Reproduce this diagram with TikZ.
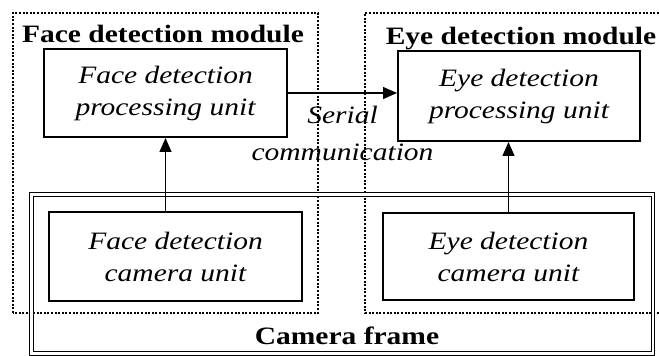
\documentclass[tikz,border=0pt]{standalone}
\usepackage{fontspec}
\setmainfont{Liberation Serif}[FakeStretch=1.18]
\usetikzlibrary{arrows.meta}

\begin{document}
\begin{tikzpicture}[x=1pt,y=1pt,
  unit/.style={draw,line width=2pt,align=center,inner sep=0pt,font=\fontsize{25}{32}\selectfont\itshape},
  module/.style={line width=2.2pt,dash pattern=on 2pt off 1.6pt},
  title/.style={anchor=base,inner sep=0pt,font=\fontsize{25}{32}\selectfont\bfseries},
  link/.style={line width=1.3pt,-{Triangle[length=14pt,width=12pt]}}]
  \useasboundingbox (0,0) rectangle (659,356);

  %modules
  \draw[module] (13,43) rectangle (318,343);
  \draw[module] (659,343) -- (365,343) -- (365,43) -- (659,43);
  \node[title] (facetitle) at (163,313) {Face detection module};
  \node[title] (eyetitle) at (521,311) {Eye detection module};

  %camera frame
  \draw[line width=1.3pt,double,double distance=2.2pt] (31.5,2.5) rectangle (653,161.5);
  \node[title] (frametitle) at (347,11) {Camera frame};

  %units
  \node[unit,minimum width=243pt,minimum height=88pt] (faceproc) at (165.5,263) {Face detection\\processing unit};
  \node[unit,minimum width=242pt,minimum height=90pt] (eyeproc) at (519,260) {Eye detection\\processing unit};
  \node[unit,minimum width=253pt,minimum height=89pt] (facecam) at (175.5,99.5) {Face detection\\camera unit};
  \node[unit,minimum width=251pt,minimum height=87pt] (eyecam) at (508.5,99.5) {Eye detection\\camera unit};

  %links
  \draw[link] (faceproc.south |- facecam.north) -- (faceproc.south);
  \draw[link] (eyecam.north) -- (eyecam.north |- eyeproc.south);
  \draw[link] (faceproc.east) -- (faceproc.east -| eyeproc.west)
    node[midway,below=13pt,align=center,inner sep=0pt,font=\fontsize{25}{32}\selectfont\itshape] (serial) {Serial\\[5pt]communication};
\end{tikzpicture}
\end{document}
